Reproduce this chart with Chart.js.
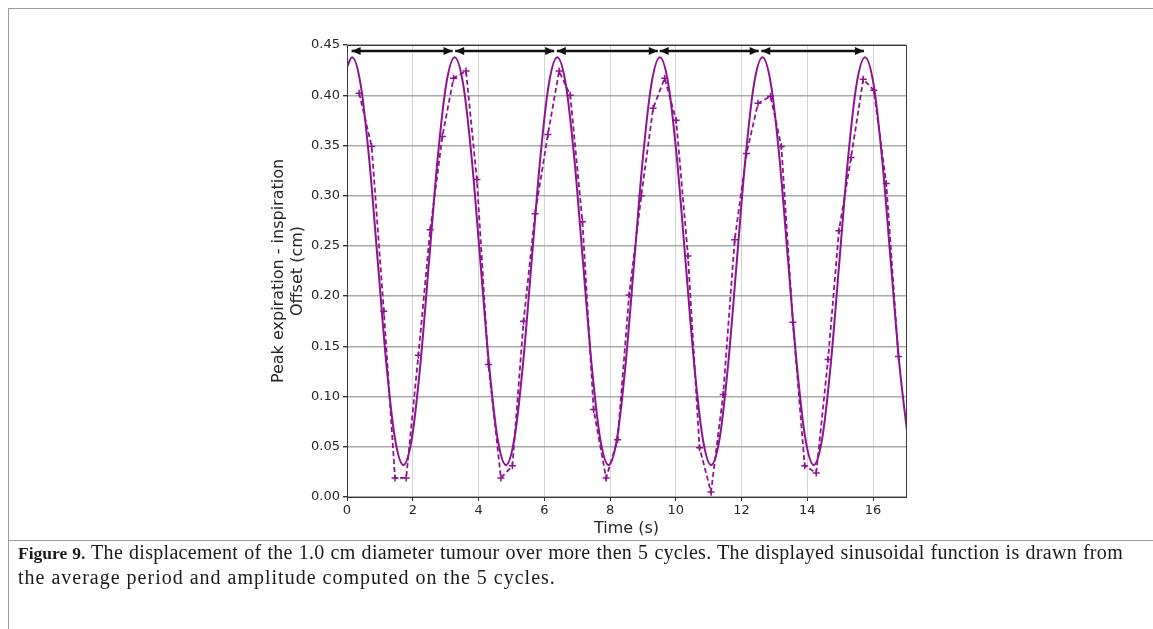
<!DOCTYPE html>
<html><head><meta charset="utf-8">
<script src="https://cdn.jsdelivr.net/npm/chart.js@4.4.0/dist/chart.umd.min.js"></script>
<style>
html,body{margin:0;padding:0;background:#fff;width:1153px;height:629px;overflow:hidden;}
#frameL{position:absolute;left:8px;top:8px;width:1px;height:621px;background:#9a9a9a;}
#frameT{position:absolute;left:8px;top:8px;width:1145px;height:1px;background:#9a9a9a;}
#frameM{position:absolute;left:8px;top:540px;width:1145px;height:1px;background:#9a9a9a;}
#c{position:absolute;left:0;top:0;}
.cap{position:absolute;left:18px;font-family:"Liberation Serif","Times New Roman",serif;font-size:20px;line-height:25px;color:#1a1a1a;white-space:nowrap;}
#cap1{top:540px;width:1105px;text-align:justify;text-align-last:justify;letter-spacing:0.3px;}
#cap2{top:565px;letter-spacing:1px;}
.cap b{font-weight:bold;font-size:17.5px;letter-spacing:0;}
</style></head>
<body>
<div id="frameL"></div><div id="frameT"></div><div id="frameM"></div>
<canvas id="c" width="1153" height="545"></canvas>
<div class="cap" id="cap1"><b>Figure 9.</b> The displacement of the 1.0 cm diameter tumour over more then 5 cycles. The displayed sinusoidal function is drawn from</div>
<div class="cap" id="cap2">the average period and amplitude computed on the 5 cycles.</div>
<script>
// ---- data ----
const xTickValues = [0, 2, 4, 6, 8, 10, 12, 14, 16];
const yTickValues = [0, 0.05, 0.10, 0.15, 0.20, 0.25, 0.30, 0.35, 0.40, 0.45];

const measuredTime = [0.37, 0.75, 1.12, 1.46, 1.80, 2.17, 2.53, 2.90, 3.24, 3.62, 3.95, 4.30, 4.68, 5.03, 5.37, 5.72, 6.11, 6.45, 6.79, 7.16, 7.50, 7.88, 8.23, 8.58, 8.95, 9.31, 9.66, 10.01, 10.37, 10.72, 11.07, 11.44, 11.79, 12.15, 12.50, 12.88, 13.21, 13.56, 13.92, 14.27, 14.63, 14.96, 15.33, 15.70, 16.02, 16.40, 16.77];
const measuredOffset = [0.402, 0.349, 0.185, 0.019, 0.019, 0.141, 0.266, 0.359, 0.417, 0.424, 0.316, 0.132, 0.019, 0.031, 0.175, 0.282, 0.361, 0.424, 0.400, 0.274, 0.087, 0.019, 0.057, 0.201, 0.300, 0.387, 0.417, 0.375, 0.240, 0.049, 0.005, 0.102, 0.256, 0.342, 0.392, 0.399, 0.349, 0.174, 0.031, 0.024, 0.137, 0.265, 0.338, 0.416, 0.405, 0.312, 0.140];

const fitTime = [0, 0.155, 0.415, 0.675, 0.935, 1.195, 1.455, 1.715, 1.975, 2.235, 2.495, 2.755, 3.015, 3.275, 3.535, 3.795, 4.055, 4.315, 4.575, 4.835, 5.095, 5.355, 5.615, 5.875, 6.135, 6.395, 6.655, 6.915, 7.175, 7.435, 7.695, 7.955, 8.215, 8.475, 8.735, 8.995, 9.255, 9.515, 9.775, 10.035, 10.295, 10.555, 10.815, 11.075, 11.335, 11.595, 11.855, 12.115, 12.375, 12.635, 12.895, 13.155, 13.415, 13.675, 13.935, 14.195, 14.455, 14.715, 14.975, 15.235, 15.495, 15.755, 16.015, 16.275, 16.535, 16.795, 17.055];
const fitOffset = [0.428,
  0.4378, 0.4106, 0.3363, 0.2348, 0.1333, 0.0590, 0.0318, 0.0590, 0.1333, 0.2348, 0.3363, 0.4106,
  0.4378, 0.4106, 0.3363, 0.2348, 0.1333, 0.0590, 0.0318, 0.0590, 0.1333, 0.2348, 0.3363, 0.4106,
  0.4378, 0.4106, 0.3363, 0.2348, 0.1333, 0.0590, 0.0318, 0.0590, 0.1333, 0.2348, 0.3363, 0.4106,
  0.4378, 0.4106, 0.3363, 0.2348, 0.1333, 0.0590, 0.0318, 0.0590, 0.1333, 0.2348, 0.3363, 0.4106,
  0.4378, 0.4106, 0.3363, 0.2348, 0.1333, 0.0590, 0.0318, 0.0590, 0.1333, 0.2348, 0.3363, 0.4106,
  0.4378, 0.4106, 0.3363, 0.2348, 0.1333, 0.0590];

// period arrows (start, end) at constant height
const arrowStart = [0.14, 3.29, 6.38, 9.51, 12.60];
const arrowEnd   = [3.21, 6.30, 9.45, 12.52, 15.72];
const arrowLevel = 0.444;

// ---- build datasets ----
const purple = '#8c1490';
const fitPoints = fitTime.map((t, i) => ({x: t, y: fitOffset[i]}));
const measPoints = measuredTime.map((t, i) => ({x: t, y: measuredOffset[i]}));
const arrowPoints = [];
arrowStart.forEach((s, i) => {
  arrowPoints.push({x: s, y: arrowLevel}, {x: arrowEnd[i], y: arrowLevel}, {x: (arrowEnd[i] + (arrowStart[i+1] ?? arrowEnd[i])) / 2, y: null});
});

const framePlugin = {
  id: 'frame',
  afterDatasetsDraw(chart) {
    const {ctx, chartArea: a, scales: {x, y}} = chart;
    ctx.save();
    ctx.fillStyle = '#111';
    const yp = y.getPixelForValue(arrowLevel);
    const head = (px, dir) => {
      ctx.beginPath();
      ctx.moveTo(px, yp);
      ctx.lineTo(px - dir * 9, yp - 4);
      ctx.lineTo(px - dir * 9, yp + 4);
      ctx.closePath();
      ctx.fill();
    };
    arrowStart.forEach((s, i) => {
      head(x.getPixelForValue(s), -1);
      head(x.getPixelForValue(arrowEnd[i]), 1);
    });
    ctx.restore();
    ctx.save();
    ctx.strokeStyle = '#3a3a3a';
    ctx.lineWidth = 1;
    ctx.strokeRect(Math.round(a.left) + 0.5, Math.round(a.top) + 0.5, Math.round(a.right - a.left), Math.round(a.bottom - a.top));
    ctx.restore();
  }
};

new Chart(document.getElementById('c'), {
  type: 'line',
  data: {
    datasets: [
      {
        label: 'fit', data: fitPoints, borderColor: purple, borderWidth: 2,
        pointRadius: 0, cubicInterpolationMode: 'monotone', fill: false, order: 3
      },
      {
        label: 'measured', data: measPoints, borderColor: purple, borderWidth: 1.8,
        borderDash: [5, 3], pointStyle: 'cross', pointRadius: 3.5, pointBorderWidth: 1.5,
        pointBorderColor: purple, tension: 0, fill: false, order: 2
      },
      {
        label: 'period', data: arrowPoints, borderColor: '#111', borderWidth: 2.5,
        pointRadius: 0, spanGaps: false, fill: false, clip: false, order: 1
      }
    ]
  },
  options: {
    responsive: false,
    animation: false,
    devicePixelRatio: 1,
    layout: {padding: {left: 257, right: 247, top: 45, bottom: 3}},
    plugins: {legend: {display: false}, tooltip: {enabled: false}},
    scales: {
      x: {
        type: 'linear', min: 0, max: 17,
        afterBuildTicks: s => { s.ticks = xTickValues.map(v => ({value: v})); },
        afterFit: s => { s.height = 45; },
        grid: {color: '#d4d4d4', lineWidth: 1, tickLength: 4, tickColor: '#333', drawTicks: true},
        border: {display: false},
        ticks: {color: '#262626', font: {family: 'DejaVu Sans', size: 13}, padding: 2, maxRotation: 0, autoSkip: false},
        title: {display: true, text: 'Time (s)', color: '#262626', font: {family: 'DejaVu Sans', size: 16}, padding: {top: 0, bottom: 4}}
      },
      y: {
        type: 'linear', min: 0, max: 0.45,
        afterBuildTicks: s => { s.ticks = yTickValues.map(v => ({value: v})); },
        afterFit: s => { s.width = 90; },
        grid: {color: '#a9a9a9', lineWidth: 1.4, tickLength: 4, tickColor: '#333', drawTicks: true},
        border: {display: false},
        ticks: {color: '#262626', font: {family: 'DejaVu Sans', size: 13}, padding: 3, autoSkip: false,
          callback: v => Number(v).toFixed(2)},
        title: {display: true, text: ['Peak expiration - inspiration', 'Offset (cm)'], color: '#262626',
          font: {family: 'DejaVu Sans', size: 16}, padding: {top: 12, bottom: 0}}
      }
    }
  },
  plugins: [framePlugin]
});
</script>
</body></html>
